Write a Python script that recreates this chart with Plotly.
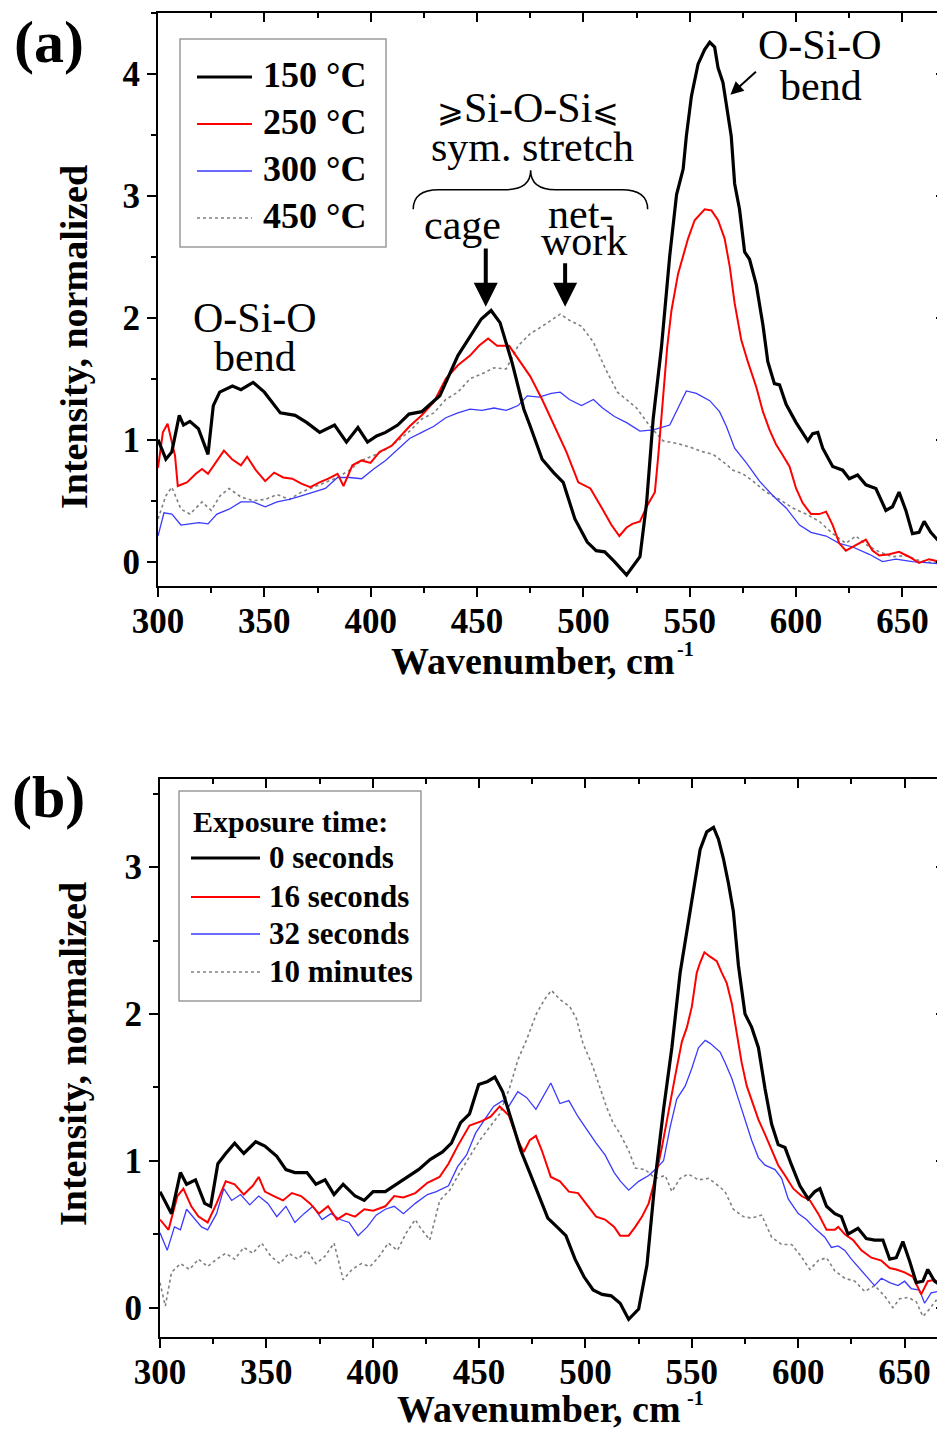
import plotly.graph_objects as go

# ---------------- data: panel (a) ----------------
a150_x = [300, 303.7, 306.5, 310, 312, 315, 319, 323.5, 326, 329, 335, 339, 344.7, 350, 357.5, 364.5, 370, 376, 383, 388.6, 394, 398.5, 402.8, 407, 412.7, 418, 424, 432.5, 441, 446.7, 452, 456.6, 460.8, 466.5, 472, 475, 480.6, 486, 490.5, 496, 501.8, 506, 510, 514.6, 520.3, 526.6, 529.7, 532.8, 536.7, 540.6, 543.8, 546.9, 548.4, 550.8, 553.9, 557, 559.4, 561.7, 563.3, 565.6, 568, 569.5, 571.1, 573.4, 575.8, 578.1, 581.3, 584.4, 586.7, 589.8, 592.2, 595.3, 600, 603.1, 605.5, 607.8, 610.2, 612.5, 617.2, 621.9, 625, 628.9, 632.8, 637.5, 642.2, 645.3, 648.4, 651.6, 654.7, 657.8, 660.2, 663.3, 666.4, 669]
a150_y = [1.0, 0.84, 0.9, 1.2, 1.12, 1.15, 1.09, 0.88, 1.28, 1.39, 1.44, 1.41, 1.47, 1.39, 1.22, 1.2, 1.14, 1.06, 1.12, 0.98, 1.1, 0.98, 1.03, 1.06, 1.12, 1.21, 1.23, 1.36, 1.69, 1.84, 1.99, 2.06, 1.96, 1.63, 1.25, 1.11, 0.84, 0.73, 0.65, 0.35, 0.16, 0.09, 0.08, 0.0, -0.11, 0.04, 0.48, 1.17, 1.76, 2.51, 3.01, 3.22, 3.49, 3.82, 4.08, 4.2, 4.26, 4.22, 4.05, 3.93, 3.64, 3.49, 3.1, 2.89, 2.54, 2.48, 2.27, 1.94, 1.64, 1.46, 1.45, 1.29, 1.14, 1.05, 0.99, 1.05, 1.06, 0.93, 0.78, 0.75, 0.68, 0.71, 0.63, 0.6, 0.42, 0.45, 0.57, 0.42, 0.23, 0.24, 0.33, 0.24, 0.18, 0.17]

a250_x = [300, 302.3, 304.5, 308, 309.3, 313.6, 317.8, 320.7, 323.5, 326.3, 331, 334.8, 339, 341.9, 346, 350.4, 354.6, 358.9, 363.1, 367.4, 371.6, 375.9, 380.1, 384.4, 387.2, 391.4, 395.7, 399.9, 404.2, 409.9, 414.1, 418.3, 424, 429.7, 435.3, 441, 446.7, 450.9, 455.2, 459.4, 465.1, 469.3, 475, 480.6, 486.3, 492, 497.6, 503.3, 509, 513.2, 516.9, 520.3, 523, 526.6, 529.7, 533.6, 535.2, 536.7, 538, 539.4, 541.4, 544.5, 549.2, 552.3, 557, 560.2, 563.3, 566.4, 568.8, 571.1, 574.2, 577.3, 581.3, 584.4, 587.5, 590.6, 593.8, 596.9, 600, 603.1, 607, 610.9, 614.1, 617.2, 620.3, 623.4, 626.6, 629.7, 632.8, 635.9, 639.1, 643.8, 648.4, 653.1, 657.8, 662.5, 667.2, 670]
a250_y = [0.77, 1.06, 1.13, 0.87, 0.62, 0.65, 0.72, 0.76, 0.72, 0.79, 0.91, 0.84, 0.79, 0.86, 0.75, 0.66, 0.73, 0.69, 0.68, 0.64, 0.61, 0.65, 0.68, 0.72, 0.62, 0.79, 0.83, 0.81, 0.9, 0.95, 1.03, 1.11, 1.2, 1.31, 1.5, 1.61, 1.69, 1.77, 1.83, 1.77, 1.77, 1.66, 1.52, 1.33, 1.11, 0.9, 0.65, 0.6, 0.43, 0.3, 0.21, 0.28, 0.31, 0.33, 0.45, 0.57, 0.87, 1.17, 1.46, 1.76, 2.06, 2.36, 2.65, 2.8, 2.89, 2.88, 2.8, 2.65, 2.42, 2.12, 1.82, 1.64, 1.43, 1.23, 1.08, 0.96, 0.87, 0.78, 0.6, 0.48, 0.39, 0.39, 0.41, 0.3, 0.15, 0.09, 0.12, 0.15, 0.18, 0.09, 0.05, 0.06, 0.08, 0.04, -0.01, 0.02, 0.0, 0.0]

a300_x = [300, 302.8, 306.5, 310.8, 315, 319.3, 323.5, 327.7, 333.4, 339, 344.7, 350.4, 356, 361.7, 367.4, 373, 378.7, 384.4, 390, 395.7, 401.4, 407, 412.7, 418.3, 424, 429.7, 435.3, 441, 446.7, 452.3, 458, 463.7, 469.3, 473.6, 479.2, 484.9, 489.1, 493.4, 499.1, 504.7, 509, 514.6, 520.3, 526.6, 532.8, 537, 540.6, 544.5, 548.4, 553.1, 559.4, 564, 567.2, 571.1, 576.6, 582.8, 589.1, 595.3, 601.6, 607, 614.1, 620.3, 626.6, 634.4, 640.6, 646.9, 654.7, 662.5, 668.8]
a300_y = [0.21, 0.4, 0.39, 0.3, 0.31, 0.32, 0.31, 0.39, 0.43, 0.49, 0.49, 0.45, 0.49, 0.51, 0.54, 0.57, 0.6, 0.69, 0.69, 0.68, 0.76, 0.83, 0.92, 1.01, 1.06, 1.11, 1.18, 1.22, 1.25, 1.24, 1.26, 1.24, 1.28, 1.36, 1.35, 1.38, 1.39, 1.33, 1.28, 1.33, 1.26, 1.19, 1.14, 1.07, 1.08, 1.1, 1.12, 1.26, 1.4, 1.38, 1.32, 1.23, 1.11, 0.93, 0.81, 0.66, 0.54, 0.44, 0.3, 0.24, 0.21, 0.15, 0.12, 0.06, 0.0, 0.02, 0.0, -0.01, -0.02]

a450_x = [300, 303.7, 306.5, 310.8, 315, 320.7, 325, 329.2, 333.4, 339, 344.7, 350.4, 356, 361.7, 367.4, 373, 378.7, 384.4, 390, 395.7, 401.4, 407, 412.7, 418.3, 424, 429.7, 435.3, 441, 446.7, 452.3, 458, 463.7, 469.3, 475, 480.6, 486.3, 489.1, 493.4, 499.1, 504.7, 510.4, 516, 521.7, 525, 531.3, 537.5, 543.8, 550, 556.3, 560.9, 565.6, 570.3, 575, 579.7, 585.9, 592.2, 598.4, 604.7, 610.9, 617.2, 623.4, 628.1, 632.8, 639.1, 645.3, 651.6, 657.8, 664.1, 668.8]
a450_y = [0.35, 0.54, 0.61, 0.43, 0.39, 0.49, 0.42, 0.54, 0.6, 0.53, 0.5, 0.51, 0.55, 0.51, 0.57, 0.61, 0.65, 0.69, 0.75, 0.83, 0.87, 0.92, 0.99, 1.07, 1.17, 1.22, 1.33, 1.39, 1.5, 1.54, 1.59, 1.58, 1.77, 1.87, 1.93, 2.0, 2.03, 1.98, 1.93, 1.8, 1.58, 1.39, 1.31, 1.26, 1.11, 0.99, 0.97, 0.94, 0.9, 0.88, 0.82, 0.75, 0.72, 0.66, 0.57, 0.51, 0.44, 0.39, 0.33, 0.23, 0.15, 0.21, 0.14, 0.08, 0.04, 0.05, 0.01, -0.01, -0.01]

# ---------------- data: panel (b) ----------------
b0_x = [300, 305.4, 309.6, 312.5, 316.7, 321, 323.8, 327.2, 330.9, 335.1, 339.4, 345, 349.3, 354.9, 359.2, 363.4, 369.1, 373.3, 377.6, 381.8, 386.1, 391.7, 396, 400.2, 405.9, 410.1, 415.8, 421.5, 427.1, 432.8, 437, 441.3, 445.5, 449.8, 454, 457.4, 461.1, 465.3, 469.6, 473.8, 478.1, 482.3, 486.6, 490.8, 495.1, 499.3, 503.6, 507.8, 512.1, 516.3, 520.3, 525, 528.9, 532.8, 536.7, 540.6, 544.5, 547.7, 550.8, 553.9, 557, 560.2, 562.5, 564.8, 567.2, 569.5, 571.9, 575, 578.1, 581.3, 584.4, 587.5, 590.6, 593.8, 596.9, 600.8, 604.7, 607.8, 610.2, 613.3, 617.2, 620.3, 623.4, 628.1, 632, 635.9, 639.8, 643, 646.1, 649.2, 652.3, 655.5, 658.6, 660.9, 664.1, 667.2, 669]
b0_y = [0.79, 0.64, 0.92, 0.84, 0.87, 0.71, 0.69, 0.98, 1.05, 1.12, 1.05, 1.13, 1.1, 1.03, 0.94, 0.92, 0.92, 0.84, 0.87, 0.77, 0.84, 0.76, 0.73, 0.79, 0.79, 0.83, 0.89, 0.94, 1.01, 1.06, 1.12, 1.26, 1.32, 1.52, 1.54, 1.57, 1.47, 1.28, 1.07, 0.92, 0.76, 0.61, 0.55, 0.49, 0.33, 0.21, 0.12, 0.09, 0.08, 0.03, -0.08, -0.01, 0.29, 0.88, 1.35, 1.77, 2.28, 2.56, 2.86, 3.12, 3.24, 3.27, 3.19, 3.06, 2.89, 2.7, 2.33, 2.0, 1.91, 1.77, 1.49, 1.25, 1.11, 1.09, 0.97, 0.83, 0.74, 0.79, 0.81, 0.69, 0.64, 0.62, 0.5, 0.54, 0.47, 0.46, 0.46, 0.33, 0.34, 0.45, 0.32, 0.17, 0.18, 0.26, 0.18, 0.15, 0.12]

b16_x = [300, 304, 308.2, 311, 314.7, 318.1, 322.4, 326.6, 330.9, 335.1, 339.4, 343.6, 346.4, 349.3, 353.5, 357.8, 362, 366.3, 370.5, 374.7, 379, 383.2, 387.5, 391.7, 396, 400.2, 405.9, 410.1, 414.4, 420, 425.7, 431.4, 435.6, 439.9, 445.5, 451.2, 455.4, 459.7, 463.9, 468.2, 471, 473.8, 476.7, 479.5, 483.7, 488, 492.2, 496.5, 500.7, 505, 509.2, 513.5, 516.3, 520.3, 523.4, 526.6, 529.7, 532.8, 535.9, 539.1, 542.2, 545.3, 547.7, 550, 552.3, 553.9, 555.9, 558.6, 561.7, 564.1, 566.4, 568.8, 571.1, 573.4, 575.8, 578.1, 581.3, 584.4, 587.5, 590.6, 593.8, 597.7, 601.6, 605.5, 609.4, 613.3, 617.2, 618.8, 621.9, 625.8, 629.7, 634.4, 639.1, 643, 646.1, 650, 653.9, 657.8, 660.9, 664.1, 667.2]
b16_y = [0.6, 0.53, 0.76, 0.81, 0.69, 0.62, 0.58, 0.71, 0.86, 0.84, 0.77, 0.83, 0.89, 0.79, 0.76, 0.73, 0.78, 0.76, 0.71, 0.64, 0.69, 0.6, 0.64, 0.62, 0.67, 0.66, 0.69, 0.76, 0.75, 0.78, 0.85, 0.89, 0.98, 1.1, 1.24, 1.27, 1.3, 1.37, 1.31, 1.14, 1.06, 1.14, 1.17, 1.07, 0.89, 0.86, 0.79, 0.78, 0.7, 0.62, 0.6, 0.55, 0.49, 0.49, 0.55, 0.62, 0.71, 0.88, 1.09, 1.35, 1.58, 1.81, 1.91, 2.05, 2.28, 2.35, 2.42, 2.39, 2.36, 2.28, 2.21, 2.07, 1.88, 1.67, 1.51, 1.42, 1.28, 1.18, 1.07, 0.97, 0.9, 0.81, 0.76, 0.73, 0.64, 0.53, 0.53, 0.55, 0.5, 0.46, 0.39, 0.34, 0.32, 0.27, 0.26, 0.24, 0.21, 0.09, 0.18, 0.19, 0.15]

b32_x = [300, 303.4, 306.8, 309.6, 312.5, 315.3, 319.5, 322.4, 326.6, 330, 333.7, 337.9, 342.2, 346.4, 350.7, 354.9, 359.2, 363.4, 367.7, 371.9, 376.2, 380.4, 384.7, 388.9, 393.1, 397.4, 401.6, 405.9, 410.1, 414.4, 420, 425.7, 429.9, 435.6, 439.9, 444.1, 448.4, 452.6, 456.8, 461.1, 463.9, 468.2, 472.4, 476.7, 480.9, 483.7, 488, 492.2, 496.5, 500.7, 505, 509.2, 513.5, 516.5, 520.3, 525, 529.7, 532.8, 536.7, 539.8, 542.9, 546.9, 550, 553.1, 556.3, 558.6, 560.9, 563.3, 565.6, 568.8, 571.9, 575, 578.1, 581.3, 584.4, 589.1, 592.2, 595.3, 600, 603.9, 607.8, 612.5, 615.6, 618.8, 621.9, 625, 628.1, 632, 635.9, 639.1, 643, 646.9, 650, 653.1, 657, 659.4, 662.5, 665.6, 668]
b32_y = [0.51, 0.39, 0.55, 0.53, 0.67, 0.62, 0.55, 0.53, 0.64, 0.81, 0.73, 0.77, 0.7, 0.76, 0.71, 0.62, 0.69, 0.58, 0.64, 0.69, 0.6, 0.64, 0.6, 0.58, 0.49, 0.55, 0.63, 0.67, 0.69, 0.64, 0.71, 0.77, 0.79, 0.83, 0.96, 1.04, 1.19, 1.28, 1.37, 1.41, 1.37, 1.47, 1.43, 1.35, 1.46, 1.53, 1.39, 1.41, 1.3, 1.21, 1.12, 1.04, 0.92, 0.86, 0.8, 0.86, 0.9, 0.94, 1.0, 1.23, 1.42, 1.51, 1.63, 1.77, 1.82, 1.8, 1.77, 1.74, 1.67, 1.56, 1.42, 1.28, 1.14, 1.02, 0.97, 0.94, 0.88, 0.74, 0.64, 0.6, 0.54, 0.48, 0.41, 0.42, 0.39, 0.33, 0.28, 0.22, 0.15, 0.2, 0.17, 0.15, 0.18, 0.13, 0.12, 0.03, 0.1, 0.11, 0.08]

b10m_x = [300, 302.5, 305.4, 309.6, 313.9, 318.1, 322.4, 326.6, 330.9, 335.1, 339.4, 343.6, 347.8, 352.1, 356.3, 360.6, 364.8, 369.1, 373.3, 377.6, 381.8, 386.1, 390.3, 394.6, 398.8, 403.1, 407.3, 411.6, 415.8, 420, 422.1, 426.8, 431.5, 436.2, 440.9, 445.6, 450.3, 455, 459.7, 464.4, 468.3, 472.2, 476.9, 480.8, 484, 487.9, 492.6, 495.7, 498.8, 503.5, 506.7, 509.8, 512.9, 516, 520.3, 523.4, 528.1, 532.8, 537.5, 540.6, 544.5, 548.4, 553.1, 557.8, 562.5, 565.6, 569.5, 574.2, 578.1, 582.8, 587.5, 592.2, 596.9, 600.8, 605.5, 609.4, 613.3, 617.2, 621.9, 626.6, 631.3, 635.9, 640.6, 644.5, 647.7, 651.6, 655.5, 658.6, 661.7, 664.8, 668]
b10m_y = [0.17, 0.01, 0.24, 0.3, 0.26, 0.33, 0.28, 0.33, 0.37, 0.33, 0.41, 0.37, 0.44, 0.35, 0.3, 0.37, 0.33, 0.39, 0.3, 0.35, 0.44, 0.19, 0.26, 0.3, 0.28, 0.35, 0.44, 0.39, 0.51, 0.6, 0.55, 0.46, 0.73, 0.8, 0.92, 1.03, 1.14, 1.23, 1.32, 1.5, 1.69, 1.82, 2.0, 2.1, 2.16, 2.1, 2.05, 1.97, 1.8, 1.64, 1.5, 1.37, 1.26, 1.19, 1.07, 0.95, 0.94, 0.88, 0.9, 0.79, 0.88, 0.91, 0.87, 0.88, 0.83, 0.79, 0.67, 0.62, 0.61, 0.63, 0.48, 0.43, 0.43, 0.36, 0.26, 0.32, 0.34, 0.25, 0.2, 0.18, 0.11, 0.15, 0.08, 0.0, 0.06, 0.07, 0.04, -0.06, -0.01, 0.05, 0.04]

legend_a = ["150 °C", "250 °C", "300 °C", "450 °C"]
legend_b = ["0 seconds", "16 seconds", "32 seconds", "10 minutes"]
legend_b_title = "Exposure time:"
x_ticks = [300, 350, 400, 450, 500, 550, 600, 650]
x_title = "Wavenumber, cm"
x_title_sup = "-1"
y_title = "Intensity, normalized"

# ---------------- styles / geometry ----------------
W, H = 945, 1431
OFF = 8  # page body margin: screen pixel = figure pixel + OFF
SERIF = "Liberation Serif"
styles = [
    dict(color="#000000", width=3.2, dash="solid"),
    dict(color="#ff0000", width=2.0, dash="solid"),
    dict(color="#3a3aff", width=1.3, dash="solid"),
    dict(color="#808080", width=1.6, dash="3px,3px"),
]

def px(xs):
    return (xs - OFF) / W

def py(ys):
    return 1 - (ys - OFF) / H

fig = go.Figure()
series_a = [(a150_x, a150_y), (a250_x, a250_y), (a300_x, a300_y), (a450_x, a450_y)]
series_b = [(b0_x, b0_y), (b16_x, b16_y), (b32_x, b32_y), (b10m_x, b10m_y)]
for i in [3, 2, 1, 0]:
    xs, ys = series_a[i]
    fig.add_trace(go.Scatter(x=xs, y=ys, mode="lines", line=styles[i], name=legend_a[i],
                             showlegend=False, xaxis="x", yaxis="y"))
for i in [3, 2, 1, 0]:
    xs, ys = series_b[i]
    fig.add_trace(go.Scatter(x=xs, y=ys, mode="lines", line=styles[i], name=legend_b[i],
                             showlegend=False, xaxis="x2", yaxis="y2"))
# empty traces to activate the mirror (top/right) axes
fig.add_trace(go.Scatter(x=[None], y=[None], xaxis="x3", yaxis="y3", showlegend=False, hoverinfo="skip"))
fig.add_trace(go.Scatter(x=[None], y=[None], xaxis="x4", yaxis="y4", showlegend=False, hoverinfo="skip"))

tickfont = dict(family=SERIF, size=35, color="black", weight="bold")
common = dict(showgrid=False, zeroline=False, showline=True, linecolor="black", linewidth=2,
              tickcolor="black", tickwidth=2, ticklen=9, automargin=False)

xa_dom = [px(158), px(945)]
xb_dom = [px(160), px(945)]
ya_dom = [py(586), py(13)]
yb_dom = [py(1337), py(779)]
xa_rng = [300, 670]
xb_rng = [300, 669]
ya_rng = [-0.2, 4.5]
yb_rng = [-0.2, 3.6]

def xmain(dom, rng, anchor):
    return dict(domain=dom, range=rng, anchor=anchor, ticks="outside", tickvals=x_ticks,
                tickfont=tickfont, ticklabelstandoff=-6,
                minor=dict(dtick=25, tick0=300, ticks="outside", ticklen=5, tickwidth=2, tickcolor="black"),
                **common)

def ymain(dom, rng, anchor):
    return dict(domain=dom, range=rng, anchor=anchor, ticks="outside", dtick=1, tick0=0,
                tickfont=tickfont,
                minor=dict(dtick=0.5, tick0=0, ticks="outside", ticklen=5, tickwidth=2, tickcolor="black"),
                **common)

def xmirror(dom, rng, over, anchor):
    return dict(domain=dom, range=rng, overlaying=over, anchor=anchor, side="top", ticks="inside",
                tickvals=x_ticks, showticklabels=False,
                minor=dict(dtick=25, tick0=300, ticks="inside", ticklen=5, tickwidth=2, tickcolor="black"),
                **common)

def ymirror(dom, rng, over, anchor):
    return dict(domain=dom, range=rng, overlaying=over, anchor=anchor, side="right", ticks="inside",
                dtick=1, tick0=0, showticklabels=False,
                minor=dict(dtick=0.5, tick0=0, ticks="inside", ticklen=5, tickwidth=2, tickcolor="black"),
                **common)

fig.update_layout(
    width=W, height=H, margin=dict(l=0, r=0, t=0, b=0, autoexpand=False),
    paper_bgcolor="white", plot_bgcolor="white", showlegend=False,
    xaxis=xmain(xa_dom, xa_rng, "y"),
    yaxis=ymain(ya_dom, ya_rng, "x"),
    xaxis2=xmain(xb_dom, xb_rng, "y2"),
    yaxis2=ymain(yb_dom, yb_rng, "x2"),
    xaxis3=xmirror(xa_dom, xa_rng, "x", "y3"),
    yaxis3=ymirror(ya_dom, ya_rng, "y", "x3"),
    xaxis4=xmirror(xb_dom, xb_rng, "x2", "y4"),
    yaxis4=ymirror(yb_dom, yb_rng, "y2", "x4"),
)

ann = []
shapes = []

def ptext(text, x, y, size, bold=True, xanchor="center", yanchor="middle", angle=0):
    ann.append(dict(text=text, x=px(x), y=py(y), xref="paper", yref="paper", showarrow=False,
                    xanchor=xanchor, yanchor=yanchor, textangle=angle,
                    font=dict(family=SERIF, size=size, color="black", weight="bold" if bold else "normal")))

# panel labels
ptext("(a)", 49, 42, 60)
ptext("(b)", 48, 797, 60)
# axis titles
ptext(y_title, 74, 337, 38, angle=-90)
ptext(y_title, 73, 1054, 38, angle=-90)
ptext(x_title, 533, 661, 38)
ptext(x_title_sup, 675, 649, 20, xanchor="left")
ptext(x_title, 539, 1409, 38)
ptext(x_title_sup, 685, 1398, 20, xanchor="left")

# legend (a)
shapes.append(dict(type="rect", xref="paper", yref="paper", x0=px(180), x1=px(386), y0=py(247), y1=py(39),
                   line=dict(color="#9a9a9a", width=1.5), fillcolor="rgba(0,0,0,0)"))
rows_a = [77, 124, 171, 218]
for i, lbl in enumerate(legend_a):
    st = styles[i]
    shapes.append(dict(type="line", xref="paper", yref="paper", x0=px(197), x1=px(252), y0=py(rows_a[i]),
                       y1=py(rows_a[i]), line=dict(color=st["color"], width=st["width"], dash=st["dash"])))
    ptext(lbl, 261, rows_a[i] - 2, 36, xanchor="left")

# legend (b)
shapes.append(dict(type="rect", xref="paper", yref="paper", x0=px(179), x1=px(421), y0=py(1001), y1=py(791),
                   line=dict(color="#9a9a9a", width=1.5), fillcolor="rgba(0,0,0,0)"))
ptext(legend_b_title, 191, 822, 30, xanchor="left")
rows_b = [858, 897, 934, 972]
for i, lbl in enumerate(legend_b):
    st = styles[i]
    shapes.append(dict(type="line", xref="paper", yref="paper", x0=px(191), x1=px(260), y0=py(rows_b[i]),
                       y1=py(rows_b[i]), line=dict(color=st["color"], width=st["width"], dash=st["dash"])))
    ptext(lbl, 267, rows_b[i] - 1, 31, xanchor="left")

# annotations in data coords (panel a)
def dtext(text, x, y, size=42):
    ann.append(dict(text=text, x=x, y=y, xref="x", yref="y", showarrow=False, xanchor="center",
                    yanchor="middle", font=dict(family=SERIF, size=size, color="black")))

dtext("O-Si-O", 345.6, 2.0)
dtext("bend", 345.8, 1.68)
dtext("O-Si-O", 611.4, 4.24)
dtext("bend", 611.8, 3.9)
dtext("<span style='font-size:32px'>⩾</span>Si-O-Si<span style='font-size:32px'>⩽</span>", 474.0, 3.72)
dtext("sym. stretch", 476.1, 3.40)
dtext("cage", 443.3, 2.76)
dtext("net-", 498.7, 2.85)
dtext("work", 500.1, 2.63)

# curly brace
shapes.append(dict(type="path", xref="x", yref="y",
                   path="M 420,2.89 Q 420,3.05 432,3.05 L 463,3.05 Q 475.2,3.05 475.2,3.21 "
                        "Q 475.2,3.05 487,3.05 L 518,3.05 Q 530.2,3.05 530.2,2.89",
                   line=dict(color="black", width=1.5)))

def arrow(xt, yt, xa, ya, width, size):
    ann.append(dict(x=xt, y=yt, ax=xa, ay=ya, xref="x", yref="y", axref="x", ayref="y", text="",
                    showarrow=True, arrowhead=2, arrowwidth=width, arrowsize=size, arrowcolor="black"))

arrow(454.1, 2.09, 454.1, 2.58, 4, 1.2)
arrow(491.4, 2.09, 491.4, 2.46, 4, 1.2)
arrow(569.1, 3.83, 581.8, 4.03, 2, 1.3)

fig.update_layout(annotations=ann, shapes=shapes)
fig.write_html("out.html")
